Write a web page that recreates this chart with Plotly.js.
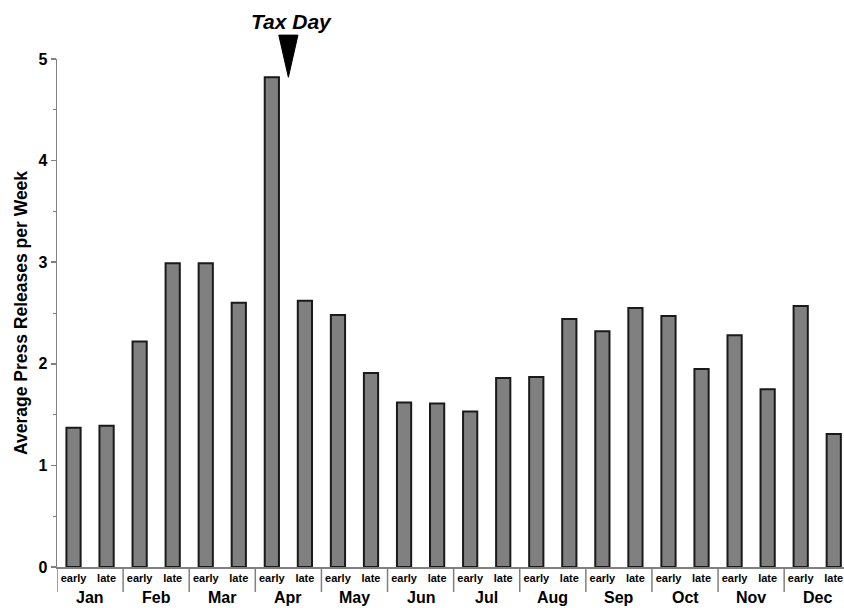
<!DOCTYPE html>
<html>
<head>
<meta charset="utf-8">
<script src="https://cdn.plot.ly/plotly-3.0.1.min.js"></script>
<style>html,body{margin:0;padding:0;background:#fff;overflow:hidden}</style>
</head>
<body>
<div id="chart" style="width:844px;height:608px"></div>
<script>
const months = ["Jan","Feb","Mar","Apr","May","Jun","Jul","Aug","Sep","Oct","Nov","Dec"];
const halves = ["early","late"];
const earlyValues = [1.37, 2.22, 2.99, 4.82, 2.48, 1.62, 1.53, 1.87, 2.32, 2.47, 2.28, 2.57];
const lateValues  = [1.39, 2.99, 2.60, 2.62, 1.91, 1.61, 1.86, 2.44, 2.55, 1.95, 1.75, 1.31];
const yTitle = "Average Press Releases per Week";
const eventLabel = "Tax Day";
const eventMonth = "Apr";

const xPos = [], yVals = [], tickText = [];
months.forEach((m, i) => {
  xPos.push(2*i); yVals.push(earlyValues[i]); tickText.push(halves[0]);
  xPos.push(2*i+1); yVals.push(lateValues[i]); tickText.push(halves[1]);
});

const FONT = "Liberation Sans, Arial, sans-serif";
const plotH = 608 - 59 - 41;
const yMax = 5;

const annotations = months.map((m, i) => ({
  x: 2*i + 0.5, xref: 'x', y: 0, yref: 'paper', yshift: -30,
  text: '<b>' + m + '</b>', showarrow: false, xanchor: 'center', yanchor: 'middle',
  font: {family: FONT, size: 16, color: '#000'}
}));
annotations.push({
  x: 0, xref: 'paper', xshift: -36, y: 0.5, yref: 'paper',
  text: '<b>' + yTitle + '</b>', textangle: -90, showarrow: false,
  xanchor: 'center', yanchor: 'middle',
  font: {family: FONT, size: 17.5, color: '#000'}
});
const evIdx = months.indexOf(eventMonth);
const evX = 2*evIdx + 0.5;
const evTop = earlyValues[evIdx];
annotations.push({
  x: evX, xref: 'x', xshift: 3, y: 1, yref: 'paper', yshift: 38,
  text: '<b><i>' + eventLabel + '</i></b>', showarrow: false,
  xanchor: 'center', yanchor: 'middle',
  font: {family: FONT, size: 21, color: '#000'}
});

const shapes = [];
for (let i = 0; i < months.length; i++) {
  shapes.push({
    type: 'line', xref: 'x', yref: 'paper',
    x0: 2*i - 0.5, x1: 2*i - 0.5, y0: 0, y1: -25/plotH,
    line: {color: '#808080', width: 1.5}
  });
}
const triW = 0.29, triH = 0.415;
shapes.push({
  type: 'path', xref: 'x', yref: 'paper',
  path: `M ${evX - triW},${(evTop + triH)/yMax} L ${evX + triW},${(evTop + triH)/yMax} L ${evX},${evTop/yMax} Z`,
  fillcolor: '#000', line: {color: '#000', width: 1}
});

const data = [{
  type: 'bar', x: xPos, y: yVals, width: 0.43,
  marker: {color: '#808080', line: {color: '#1a1a1a', width: 2}},
  hoverinfo: 'none'
}];

const layout = {
  width: 844, height: 608,
  margin: {l: 57, r: 0, t: 59, b: 41},
  paper_bgcolor: '#fff', plot_bgcolor: '#fff',
  showlegend: false,
  font: {family: FONT, color: '#000'},
  xaxis: {
    range: [-0.5, 23.31], tickvals: xPos, ticktext: tickText.map(t => '<b>' + t + '</b>'),
    ticks: '', showgrid: false, zeroline: false, showline: true,
    linecolor: '#808080', linewidth: 1.5,
    tickfont: {family: FONT, size: 11, color: '#000'}, fixedrange: true
  },
  yaxis: {
    range: [0, yMax], tickvals: [0,1,2,3,4,5], ticktext: ['<b>0</b>','<b>1</b>','<b>2</b>','<b>3</b>','<b>4</b>','<b>5</b>'],
    ticks: 'outside', ticklen: 5, tickwidth: 1.5, tickcolor: '#808080',
    minor: {tickvals: [0.5,1.5,2.5,3.5,4.5], ticks: 'outside', ticklen: 3, tickcolor: '#808080', tickwidth: 1},
    showgrid: false, zeroline: false, showline: true,
    linecolor: '#808080', linewidth: 1.5,
    tickfont: {family: FONT, size: 16, color: '#000'}, fixedrange: true
  },
  annotations: annotations,
  shapes: shapes
};

Plotly.newPlot('chart', data, layout, {displayModeBar: false, staticPlot: true});
</script>
</body>
</html>
